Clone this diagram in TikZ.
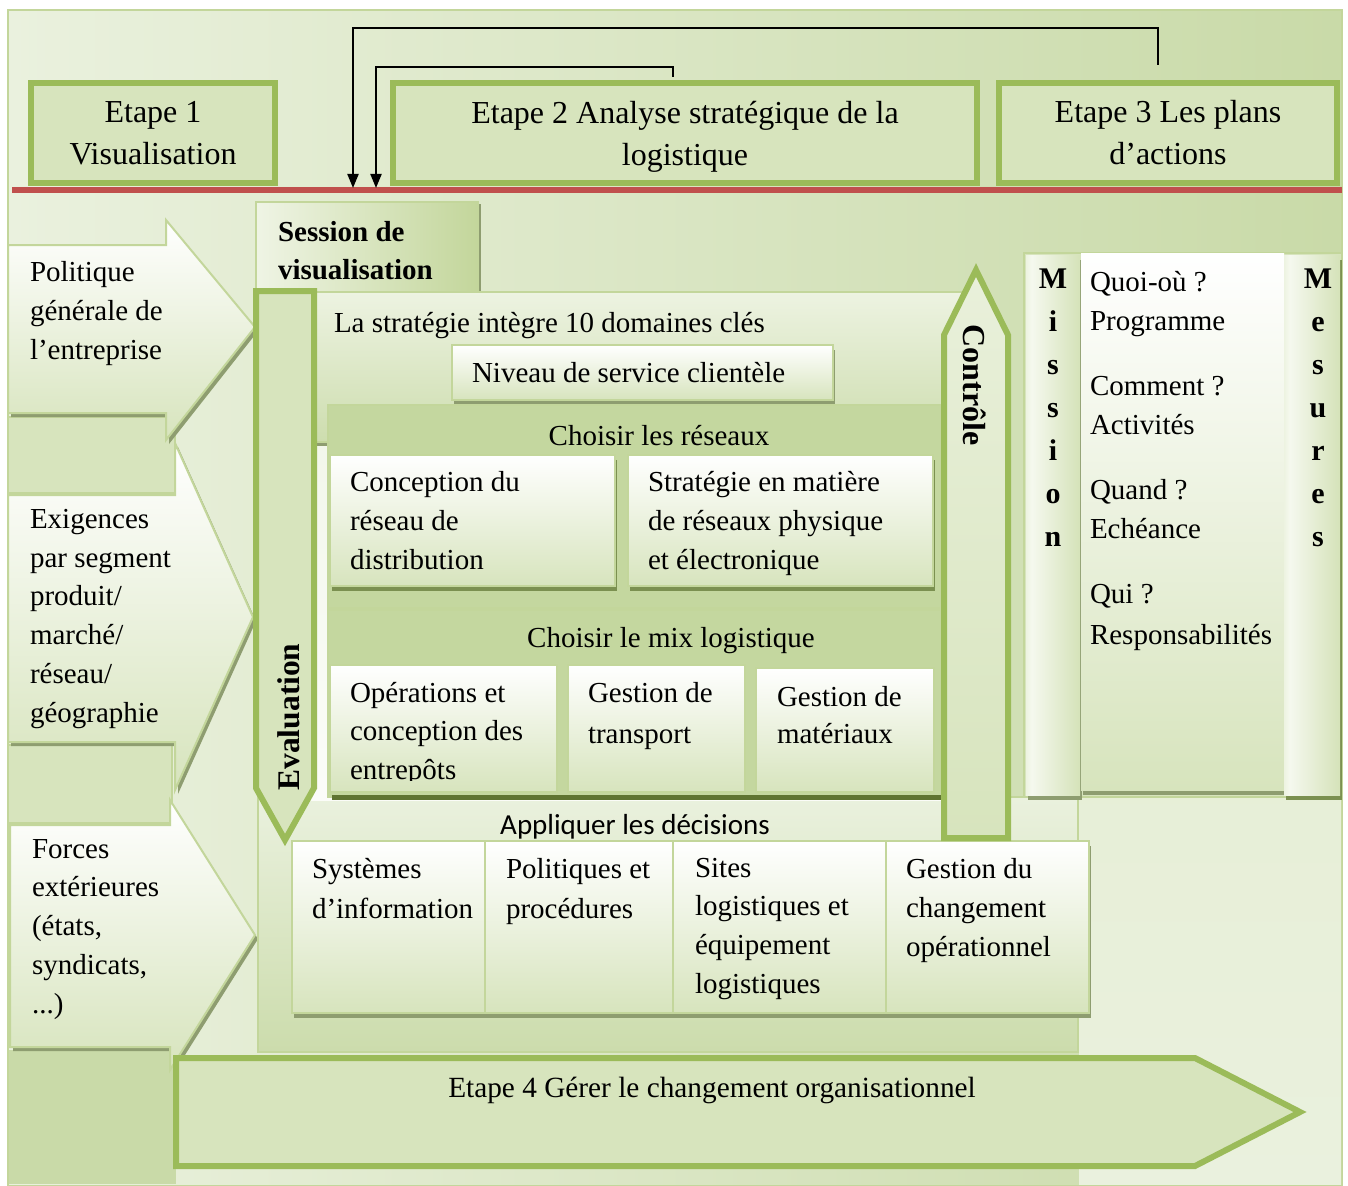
\documentclass[tikz,border=0pt]{standalone}
\usepackage{fontspec}
\setmainfont{Liberation Serif}
\newfontfamily\labelsans{Carlito}
\usetikzlibrary{arrows.meta,shadows}

\definecolor{grnborder}{HTML}{9BBB59}
\definecolor{grnfill}{HTML}{D7E4BD}
\definecolor{grnline}{HTML}{C3D69B}
\definecolor{grnmid}{HTML}{C4D79F}
\definecolor{bglight}{HTML}{EAF1DE}
\definecolor{bgdark}{HTML}{C9DAA8}
\definecolor{redrule}{HTML}{C0504D}
\definecolor{shadegrey}{HTML}{8E9D70}
\definecolor{shadedark}{HTML}{5F7431}
\definecolor{shadeolive}{HTML}{7B9050}

% light centre, green edges: the two lettered side columns
\pgfdeclarehorizontalshading{colshade}{100bp}{color(0bp)=(grnline); color(30bp)=(white!75!grnfill); color(100bp)=(grnline)}

\tikzset{
  bodytext/.style={inner sep=0pt, outer sep=0pt, align=left, anchor=north west,
    font=\fontsize{29}{39}\selectfont},
  stagebox/.style={draw=grnborder, line width=6pt, fill=grnfill, inner sep=0pt,
    align=center, font=\fontsize{32}{42}\selectfont},
  thickshape/.style={draw=grnborder, line width=6pt, fill=grnfill},
  inarrow/.style={draw=grnline, line width=2pt, top color=white, bottom color=grnfill,
    drop shadow={shadow xshift=3pt, shadow yshift=-4pt, fill=shadegrey, opacity=1}},
  card/.style={draw=grnline, line width=2pt, top color=white, bottom color=grnfill},
  cardshadow/.style={drop shadow={shadow xshift=2pt, shadow yshift=-5pt, fill=#1, opacity=1}},
  band/.style={draw=grnline, line width=1.5pt, fill=grnmid},
  conn/.style={line width=2pt, -{Triangle[length=14pt,width=11pt]}},
}

\begin{document}
\begin{tikzpicture}[x=1pt,y=-1pt]
\useasboundingbox (0,0) rectangle (1348,1185);

% ---------- background ----------
\path[draw=grnline, line width=2pt, left color=bglight, right color=bgdark] (8,10) rectangle (1342,1186);
\fill[bgdark] (9,1050) rectangle (176,1184);
\path[top color=white!40!grnfill, bottom color=bglight] (1079,798) rectangle (1341,1184);

% ---------- the three stages ----------
\node[stagebox, minimum width=244pt, minimum height=100pt] (e1) at (153,133) {Etape 1\\Visualisation};
\node[stagebox, minimum width=584pt, minimum height=100pt] (e2) at (685,133) {Etape 2 Analyse stratégique de la\\\raisebox{0pt}[\height][0pt]{logistique}};
\node[stagebox, minimum width=338pt, minimum height=100pt] (e3) at (1168,133) {Etape 3 Les plans\\d’actions};
\draw[redrule, line width=6pt] (12,190) -- (1342,190);

% feedback lines back to the visualisation session
\coordinate (fromA) at (1158,65);
\coordinate (toA) at (353,188);
\coordinate (fromB) at (673,77);
\coordinate (toB) at (376,188);
\draw[conn] (fromA) -- ++(0,-37) -| (toA);
\draw[conn] (fromB) -- ++(0,-10) -| (toB);

% ---------- inputs on the left ----------
\path[draw=grnline, line width=1.5pt, fill=grnfill] (8,417) rectangle (175,493);
\path[draw=grnline, line width=1.5pt, fill=grnfill] (8,745) rectangle (172,823);
\path[inarrow] (8,245) -- (166,245) -- (166,220) -- (255,327) -- (166,440) -- (166,413) -- (8,413) -- cycle;
\path[inarrow] (8,495) -- (175,495) -- (175,443) -- (253,617) -- (175,790) -- (175,742) -- (8,742) -- cycle;
\path[inarrow] (10,825) -- (170,825) -- (170,800) -- (255,935) -- (170,1070) -- (170,1047) -- (10,1047) -- cycle;

\node[bodytext] (in1) at (30,261) {Politique\\générale de\\l’entreprise};
\node[bodytext, font=\fontsize{29}{38.8}\selectfont] (in2) at (30,509) {Exigences\\par segment\\produit/\\marché/\\réseau/\\géographie};
\node[bodytext, font=\fontsize{29}{38.8}\selectfont] (in3) at (32,839) {Forces\\extérieures\\(états,\\syndicats,\\...)};

% ---------- session tab ----------
\path[draw=grnline, line width=1.5pt, left color=white!60!grnfill, right color=grnline,
  drop shadow={shadow xshift=3pt, shadow yshift=-2pt, fill=shadegrey, opacity=1}] (256,202) rectangle (478,295);
\node[bodytext, font=\bfseries\fontsize{29}{38}\selectfont] (sess) at (278,221) {Session de\\visualisation};

% ---------- implementation panel ----------
\path[draw=grnline, line width=1.5pt, top color=bglight, bottom color=bgdark!80!grnfill] (258,797) rectangle (1078,1052);
\node[inner sep=0pt, font=\labelsans\fontsize{29}{34}\selectfont] (apply) at (635,827) {Appliquer les décisions};

% ---------- strategy panel ----------
\path[top color=white!70!grnfill, bottom color=white!90!grnfill] (300,442) rectangle (962,800);
\path[draw=grnline, line width=1.5pt, top color=white!55!grnfill, bottom color=bgdark!70!grnfill,
  drop shadow={shadow xshift=2pt, shadow yshift=-4pt, fill=shadegrey, opacity=1}] (300,292) rectangle (962,442);
\node[bodytext] (strat) at (334,312) {La stratégie intègre 10 domaines clés};
\path[card, cardshadow=shadegrey] (452,345) rectangle (833,400);
\node[bodytext] (niveau) at (472,362) {Niveau de service clientèle};

% networks
\path[band] (328,405) rectangle (941,608);
\node[inner sep=0pt, font=\fontsize{29}{39}\selectfont] (reseaux) at (659,436) {Choisir les réseaux};
\path[card, cardshadow=shadeolive] (330,455) rectangle (615,586);
\path[card, cardshadow=shadeolive] (628,455) rectangle (933,586);
\node[bodytext] (conc) at (350,471) {Conception du\\réseau de\\distribution};
\node[bodytext] (strphys) at (648,471) {Stratégie en matière\\de réseaux physique\\et électronique};

% logistics mix
\path[band] (328,610) rectangle (941,797);
\fill[shadedark] (332,795) rectangle (941,800);
\node[inner sep=0pt, font=\fontsize{29}{39}\selectfont] (mix) at (671,641) {Choisir le mix logistique};
\path[card] (330,665) rectangle (557,792);
\path[card] (568,665) rectangle (745,792);
\path[card] (756,668) rectangle (934,792);
\begin{scope}
  \clip (330,665) rectangle (557,780);
  \node[bodytext, font=\fontsize{29}{38.5}\selectfont] (entre) at (350,682) {Opérations et\\conception des\\entrepôts};
\end{scope}
\node[bodytext, font=\fontsize{29}{41}\selectfont] (transp) at (588,682) {Gestion de\\transport};
\node[bodytext, font=\fontsize{29}{37}\selectfont] (mater) at (777,686) {Gestion de\\matériaux};

% decisions to apply
\path[card, cardshadow=shadegrey] (292,841) rectangle (485,1013);
\path[card, cardshadow=shadegrey] (485,841) rectangle (673,1013);
\path[card, cardshadow=shadegrey] (673,841) rectangle (886,1013);
\path[card, cardshadow=shadegrey] (886,841) rectangle (1089,1013);
\node[bodytext, font=\fontsize{29}{40}\selectfont] (sysinfo) at (312,858) {Systèmes\\d’information};
\node[bodytext, font=\fontsize{29}{40}\selectfont] (polit) at (506,858) {Politiques et\\procédures};
\node[bodytext, font=\fontsize{29}{38.7}\selectfont] (sites) at (695,858) {Sites\\logistiques et\\équipement\\logistiques};
\node[bodytext] (chgop) at (906,858) {Gestion du\\changement\\opérationnel};

% ---------- evaluation and control ----------
\path[thickshape] (256,291) -- (314,291) -- (314,788) -- (285,840) -- (256,788) -- cycle;
\node[inner sep=0pt, rotate=90, font=\bfseries\fontsize{31.5}{39}\selectfont] (evalu) at (289,717) {Evaluation};
\path[thickshape, fill=none, top color=white!45!grnfill, bottom color=grnfill] (944,335) -- (976,270) -- (1008,335) -- (1008,838) -- (944,838) -- cycle;
\node[inner sep=0pt, rotate=-90, font=\bfseries\fontsize{32}{39}\selectfont] (ctrl) at (975,385) {Contrôle};

% ---------- mission / measures ----------
\path[draw=grnline, line width=1.5pt, fill=grnfill] (1024,253) rectangle (1342,797);
\path[shade, shading=colshade, cardshadow=shadegrey] (1026,255) rectangle (1080,795);
\path[card, draw=none, cardshadow=shadegrey] (1081,253) rectangle (1284,790);
\path[shade, shading=colshade, cardshadow=shadeolive] (1284,255) rectangle (1340,795);
\node[inner sep=0pt, anchor=north, align=center, font=\bfseries\fontsize{30}{43}\selectfont] (mission) at (1053,269) {M\\i\\s\\s\\i\\o\\n};
\node[inner sep=0pt, anchor=north, align=center, font=\bfseries\fontsize{30}{43}\selectfont] (mesures) at (1318,269) {M\\e\\s\\u\\r\\e\\s};
\node[bodytext] (plan) at (1090,271) {Quoi-où ?\\Programme\\[26pt]Comment ?\\Activités\\[26pt]Quand ?\\Echéance\\[26pt]Qui ?\\[2pt]Responsabilités};

% ---------- stage 4 ----------
\path[thickshape] (176,1058) -- (1195,1058) -- (1300,1112) -- (1195,1166) -- (176,1166) -- cycle;
\node[inner sep=0pt, font=\fontsize{29.3}{39}\selectfont] (e4) at (712,1090) {Etape 4 Gérer le changement organisationnel};
\end{tikzpicture}
\end{document}
